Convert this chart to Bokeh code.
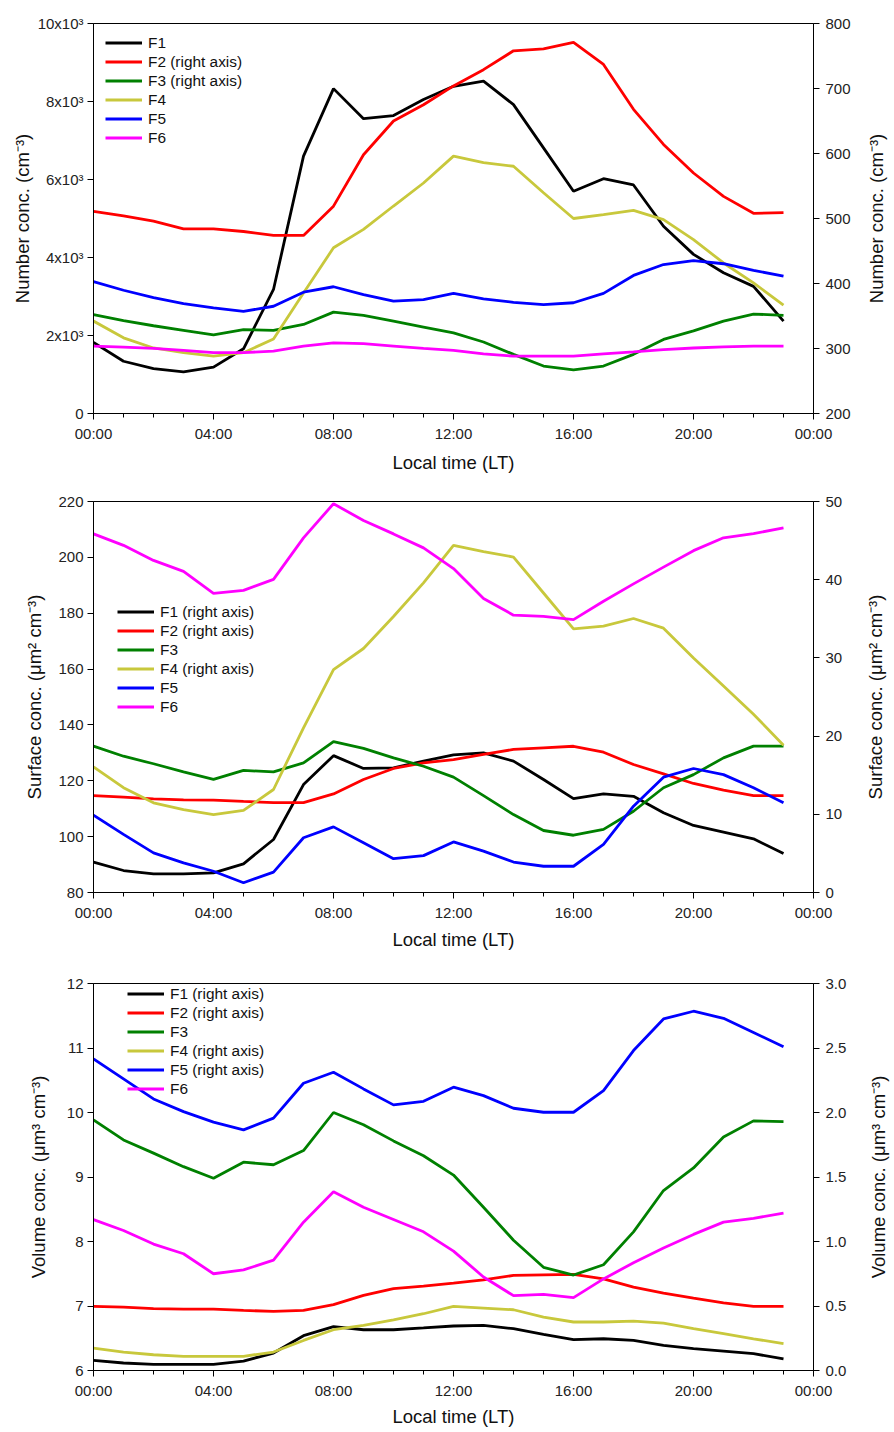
import math
from bokeh.plotting import figure
from bokeh.models import Range1d, LinearAxis, FixedTicker, Legend, LegendItem, Label
from bokeh.layouts import column, row
from bokeh.embed import file_html
from bokeh.resources import INLINE

hours = list(range(24))
x_ticks = [0, 4, 8, 12, 16, 20, 24]
x_tick_labels = ["00:00", "04:00", "08:00", "12:00", "16:00", "20:00", "00:00"]

# ---------------- Panel 1: number concentration ----------------
num_f1 = [1820, 1340, 1150, 1070, 1190, 1660, 3180, 6600, 8330, 7560, 7640, 8050,
          8390, 8520, 7920, 6810, 5700, 6020, 5860, 4800, 4080, 3610, 3260, 2370]
num_f2 = [511, 504, 496, 484, 484, 480, 474, 474, 519, 598, 650, 675,
          704, 729, 758, 761, 771, 737, 668, 614, 570, 534, 508, 509]
num_f3 = [352, 343, 335, 328, 321, 329, 328, 337, 356, 351, 342, 333,
          324, 310, 291, 273, 267, 273, 291, 314, 327, 342, 353, 351]
num_f4 = [2370, 1940, 1680, 1560, 1470, 1560, 1910, 3090, 4250, 4720, 5320, 5910,
          6600, 6430, 6340, 5660, 5000, 5100, 5210, 4970, 4460, 3860, 3350, 2780]
num_f5 = [3380, 3160, 2970, 2820, 2710, 2620, 2750, 3110, 3250, 3050, 2880, 2920,
          3080, 2940, 2850, 2790, 2840, 3080, 3540, 3820, 3920, 3840, 3670, 3520]
num_f6 = [1730, 1700, 1670, 1620, 1560, 1560, 1600, 1730, 1810, 1790, 1730, 1670,
          1620, 1530, 1470, 1470, 1470, 1530, 1580, 1640, 1680, 1710, 1730, 1730]
num_left_ticks = [0, 2000, 4000, 6000, 8000, 10000]
num_left_labels = ["0", "2x10³", "4x10³", "6x10³", "8x10³", "10x10³"]
num_right_ticks = [200, 300, 400, 500, 600, 700, 800]

# ---------------- Panel 2: surface concentration ----------------
sur_f1 = [3.88, 2.81, 2.39, 2.39, 2.52, 3.67, 6.78, 13.8, 17.5, 15.86, 15.94, 16.8,
          17.6, 17.86, 16.8, 14.45, 12.0, 12.6, 12.3, 10.2, 8.57, 7.72, 6.86, 4.99]
sur_f2 = [12.4, 12.19, 11.98, 11.85, 11.81, 11.64, 11.5, 11.5, 12.6, 14.45, 15.86, 16.58,
          17.0, 17.65, 18.3, 18.5, 18.7, 17.94, 16.37, 15.17, 13.94, 13.08, 12.4, 12.4]
sur_f3 = [132.4, 128.8, 126.1, 123.2, 120.5, 123.7, 123.2, 126.4, 134.0, 131.6, 128.2, 125.2,
          121.3, 114.7, 107.9, 102.2, 100.5, 102.6, 109.1, 117.5, 122.2, 128.2, 132.4, 132.4]
sur_f4 = [16.07, 13.4, 11.47, 10.6, 9.97, 10.49, 13.17, 21.06, 28.5, 31.2, 35.3, 39.6,
          44.4, 43.6, 42.9, 38.3, 33.7, 34.05, 35.04, 33.8, 30.0, 26.4, 22.8, 18.84]
sur_f5 = [107.7, 100.8, 94.2, 90.6, 87.6, 83.5, 87.3, 99.6, 103.5, 97.8, 92.1, 93.2,
          98.1, 94.8, 90.9, 89.4, 89.4, 97.2, 110.9, 121.3, 124.4, 122.2, 117.5, 112.1]
sur_f6 = [208.4, 204.3, 198.9, 195.0, 187.1, 188.2, 192.1, 207.0, 219.2, 213.2, 208.4, 203.4,
          196.0, 185.3, 179.3, 178.9, 177.7, 184.3, 190.5, 196.5, 202.4, 207.0, 208.5, 210.6]
sur_left_ticks = [80, 100, 120, 140, 160, 180, 200, 220]
sur_right_ticks = [0, 10, 20, 30, 40, 50]

# ---------------- Panel 3: volume concentration ----------------
vol_f1 = [0.078, 0.058, 0.047, 0.047, 0.047, 0.073, 0.135, 0.27, 0.34, 0.316, 0.316, 0.33,
          0.345, 0.35, 0.324, 0.28, 0.239, 0.246, 0.233, 0.195, 0.169, 0.151, 0.13, 0.091]
vol_f2 = [0.497, 0.492, 0.479, 0.476, 0.476, 0.466, 0.458, 0.466, 0.51, 0.582, 0.634, 0.654,
          0.678, 0.703, 0.737, 0.742, 0.745, 0.711, 0.647, 0.60, 0.561, 0.525, 0.497, 0.497]
vol_f3 = [9.885, 9.575, 9.37, 9.16, 8.98, 9.23, 9.19, 9.41, 10.0, 9.81, 9.56, 9.33,
          9.03, 8.53, 8.02, 7.60, 7.48, 7.64, 8.15, 8.79, 9.14, 9.62, 9.87, 9.86]
vol_f4 = [0.174, 0.143, 0.122, 0.109, 0.109, 0.11, 0.143, 0.233, 0.316, 0.35, 0.393, 0.44,
          0.497, 0.484, 0.471, 0.414, 0.376, 0.376, 0.383, 0.368, 0.324, 0.285, 0.246, 0.208]
vol_f5 = [2.415, 2.26, 2.105, 2.007, 1.925, 1.865, 1.956, 2.227, 2.312, 2.183, 2.059, 2.087,
          2.196, 2.131, 2.033, 2.002, 2.002, 2.17, 2.48, 2.725, 2.785, 2.73, 2.62, 2.51]
vol_f6 = [8.34, 8.17, 7.96, 7.81, 7.50, 7.56, 7.71, 8.30, 8.77, 8.53, 8.34, 8.15,
          7.85, 7.45, 7.16, 7.18, 7.13, 7.42, 7.67, 7.90, 8.11, 8.30, 8.36, 8.44]
vol_left_ticks = [6, 7, 8, 9, 10, 11, 12]
vol_right_ticks = [0.0, 0.5, 1.0, 1.5, 2.0, 2.5, 3.0]
vol_right_labels = ["0.0", "0.5", "1.0", "1.5", "2.0", "2.5", "3.0"]

COLORS = ["#000000", "#FF0000", "#008000", "#C8C83C", "#0000FF", "#FF00FF"]
NAMES = ["F1", "F2", "F3", "F4", "F5", "F6"]
FONT = "Liberation Sans"
XLABEL = "Local time (LT)"
TITLE_SIZE = "18.5px"

B_LEFT, FRAME_W, B_RIGHT = 93, 720, 50
SIDE_W = 28


def style_axis(ax, label, standoff):
    ax.major_label_text_font = FONT
    ax.major_label_text_font_size = "15px"
    ax.major_label_text_color = "#222222"
    if label:
        ax.axis_label = label
        ax.axis_label_text_font = FONT
        ax.axis_label_text_font_size = TITLE_SIZE
        ax.axis_label_text_font_style = "normal"
        ax.axis_label_text_color = "#111111"
        ax.axis_label_standoff = standoff
    ax.axis_line_color = "#000000"
    ax.major_tick_line_color = "#000000"
    ax.minor_tick_line_color = "#000000"
    ax.major_tick_in = 0
    ax.major_tick_out = 6
    ax.minor_tick_in = 0
    ax.minor_tick_out = 4


def side_title(text, b_top, fh, b_bottom, x_center):
    s = figure(width=SIDE_W, height=b_top + fh + b_bottom, output_backend="svg",
               toolbar_location=None, x_range=Range1d(0, SIDE_W), y_range=Range1d(0, 1),
               x_axis_location=None, y_axis_location=None,
               min_border_left=0, min_border_right=0,
               min_border_top=b_top, min_border_bottom=b_bottom)
    s.xgrid.visible = False
    s.ygrid.visible = False
    s.outline_line_color = None
    s.background_fill_color = "white"
    s.border_fill_color = "white"
    lbl = Label(x=x_center, y=0.5, text=text, angle=math.pi / 2,
                text_align="center", text_baseline="middle")
    lbl.text_font = FONT
    lbl.text_font_size = TITLE_SIZE
    lbl.text_color = "#111111"
    s.add_layout(lbl)
    return s


def make_panel(series, on_right, ylabel, lrange, rrange, lticks, llabels, rticks, rlabels,
               b_top, fh, b_bottom, legend_loc, left_so, bottom_so, right_center):
    p = figure(width=B_LEFT + FRAME_W + B_RIGHT, height=b_top + fh + b_bottom,
               output_backend="svg", toolbar_location=None,
               x_range=Range1d(0, 24), y_range=Range1d(*lrange),
               min_border_left=B_LEFT, min_border_right=B_RIGHT,
               min_border_top=b_top, min_border_bottom=b_bottom)
    p.extra_y_ranges = {"right": Range1d(*rrange)}
    p.xgrid.visible = False
    p.ygrid.visible = False
    p.outline_line_color = "#000000"
    p.outline_line_width = 1
    p.background_fill_color = "white"
    p.border_fill_color = "white"

    xa = p.xaxis[0]
    xa.ticker = FixedTicker(ticks=x_ticks, minor_ticks=list(range(25)))
    xa.major_label_overrides = {t: l for t, l in zip(x_ticks, x_tick_labels)}
    style_axis(xa, XLABEL, bottom_so)
    xa.major_label_standoff = 5

    ya = p.yaxis[0]
    ya.ticker = FixedTicker(ticks=lticks, minor_ticks=[])
    if llabels is not None:
        ya.major_label_overrides = {t: l for t, l in zip(lticks, llabels)}
    style_axis(ya, ylabel, left_so)
    ya.major_label_standoff = 4

    ra = LinearAxis(y_range_name="right")
    ra.ticker = FixedTicker(ticks=rticks, minor_ticks=[])
    if rlabels is not None:
        ra.major_label_overrides = {t: l for t, l in zip(rticks, rlabels)}
    style_axis(ra, None, 0)
    ra.major_label_standoff = 6
    p.add_layout(ra, "right")

    items = []
    for name, color, vals, right in zip(NAMES, COLORS, series, on_right):
        kw = {"y_range_name": "right"} if right else {}
        r = p.line(hours, vals, line_color=color, line_width=2.8, **kw)
        label = name + (" (right axis)" if right else "")
        items.append(LegendItem(label=label, renderers=[r]))

    leg = Legend(items=items, location=legend_loc)
    leg.border_line_color = None
    leg.background_fill_alpha = 0
    leg.label_text_font = FONT
    leg.label_text_font_size = "15.4px"
    leg.label_text_color = "#111111"
    leg.glyph_width = 37
    leg.glyph_height = 19
    leg.label_height = 19
    leg.label_standoff = 6
    leg.spacing = 0
    leg.padding = 0
    leg.margin = 0
    p.add_layout(leg)

    side = side_title(ylabel, b_top, fh, b_bottom, right_center)
    return row(p, side, spacing=0)


p1 = make_panel([num_f1, num_f2, num_f3, num_f4, num_f5, num_f6],
                [False, True, True, False, False, False],
                "Number conc. (cm⁻³)", (0, 10000), (200, 800),
                num_left_ticks, num_left_labels, num_right_ticks, None,
                23, 390, 72, (12, 266), 2, 7, 13)

p2 = make_panel([sur_f1, sur_f2, sur_f3, sur_f4, sur_f5, sur_f6],
                [True, True, False, True, False, False],
                "Surface conc. (μm² cm⁻³)", (80, 220), (0, 50),
                sur_left_ticks, None, sur_right_ticks, None,
                16, 391, 73, (24, 176), 10, 5, 12)

p3 = make_panel([vol_f1, vol_f2, vol_f3, vol_f4, vol_f5, vol_f6],
                [True, True, False, True, True, False],
                "Volume conc. (μm³ cm⁻³)", (6, 12), (0, 3),
                vol_left_ticks, None, vol_right_ticks, vol_right_labels,
                18, 388, 58, (34, 272), 15, 4, 15)

layout = column(p1, p2, p3, spacing=0)
open("out.html", "w").write(file_html(layout, INLINE))
